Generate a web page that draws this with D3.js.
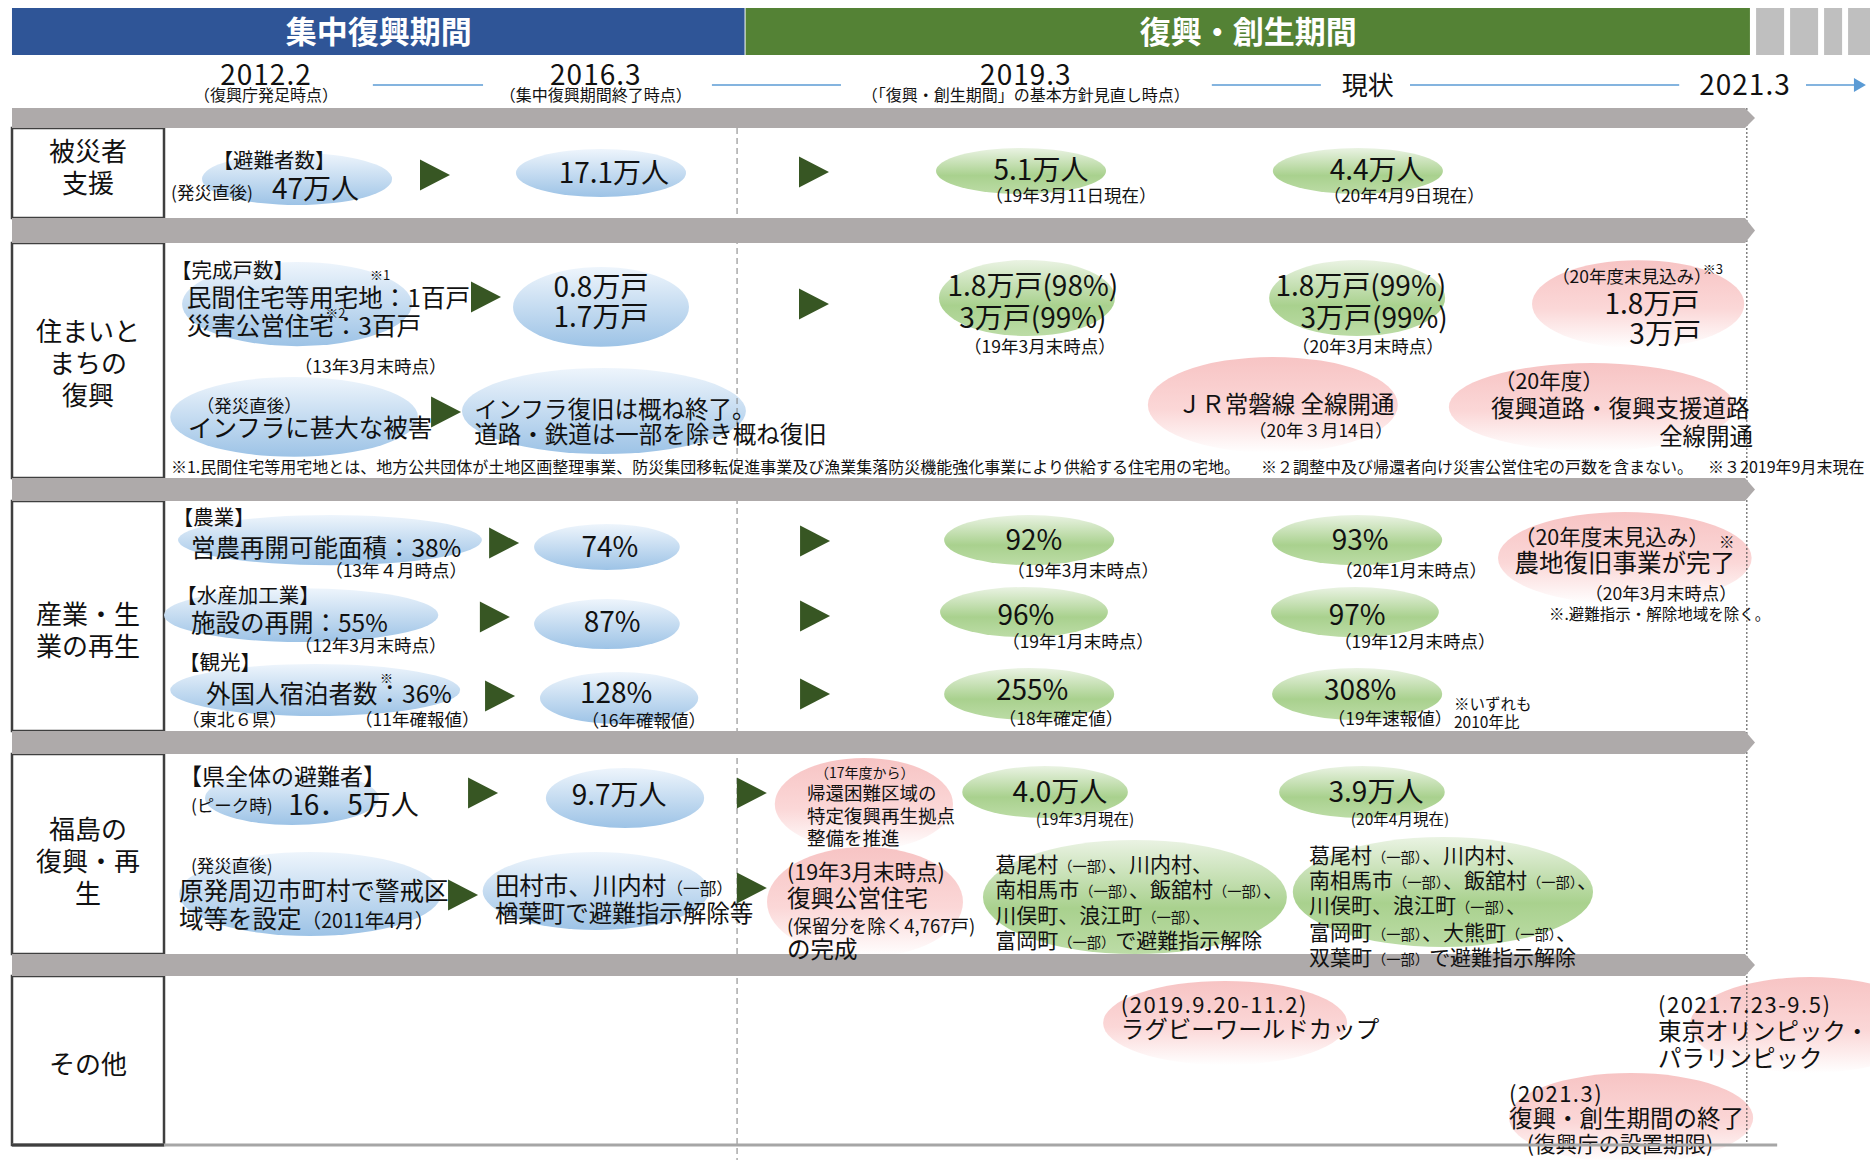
<!DOCTYPE html>
<html lang="ja">
<head>
<meta charset="utf-8">
<script src="https://cdn.jsdelivr.net/npm/d3@7"></script>
<style>
  html, body { margin: 0; background: #fff; }
  svg { display: block; font-family: "Noto Sans CJK JP", "Noto Sans", sans-serif; }
</style>
</head>
<body>
<svg id="chart" width="1870" height="1160"></svg>
<script>
// ---------- data ----------
// timeline stage units: 0 = 2012.2 ... 4 = 2021.3
const periods = [
  { name: '集中復興期間', start: -0.687, end: 1.297 },
  { name: '復興・創生期間', start: 1.297, end: 4.016 },
];

const milestones = [
  { at: 0,     label: '2012.2', note: '（復興庁発足時点）' },
  { at: 0.892, label: '2016.3', note: '（集中復興期間終了時点）' },
  { at: 2.055, label: '2019.3', note: '（「復興・創生期間」の基本方針見直し時点）' },
  { at: 2.98,  label: '現状',   note: '' },
  { at: 4,     label: '2021.3', note: '' },
];
const connectors = [[0.289, 0.587], [1.206, 1.555], [2.558, 2.853], [3.094, 3.822]];
const nextArrow = [4.165, 4.327];

const rowLabels = ['被災者\n支援', '住まいと\nまちの\n復興', '産業・生\n業の再生', '福島の\n復興・再\n生', 'その他'];

// [row, stage, v (fraction of row), rx (stage units), ry (fraction of row), phase]
const bubbles = [
  [0, 0.084, 0.567, 0.257, 0.289, 'past'], [0, 0.906, 0.50, 0.230, 0.267, 'past'],
  [0, 2.042, 0.478, 0.230, 0.256, 'done'], [0, 2.953, 0.478, 0.230, 0.256, 'done'],
  [1, 0.084, 0.260, 0.311, 0.179, 'past'], [1, 0.906, 0.272, 0.238, 0.170, 'past'],
  [1, 0.076, 0.740, 0.335, 0.170, 'past'], [1, 0.914, 0.715, 0.384, 0.183, 'past'],
  [1, 2.058, 0.234, 0.238, 0.162, 'done'], [1, 2.951, 0.234, 0.238, 0.162, 'done'],
  [1, 3.711, 0.260, 0.287, 0.187, 'plan'], [1, 2.723, 0.689, 0.338, 0.204, 'plan'],
  [1, 3.586, 0.698, 0.387, 0.187, 'plan'],
  [2, 0.173, 0.170, 0.411, 0.109, 'past'], [2, 0.922, 0.200, 0.197, 0.100, 'past'],
  [2, 0.095, 0.496, 0.371, 0.117, 'past'], [2, 0.922, 0.535, 0.197, 0.109, 'past'],
  [2, 0.133, 0.822, 0.392, 0.113, 'past'], [2, 0.955, 0.857, 0.214, 0.113, 'past'],
  [2, 2.064, 0.170, 0.230, 0.109, 'done'], [2, 2.951, 0.170, 0.230, 0.109, 'done'],
  [2, 2.050, 0.483, 0.227, 0.109, 'done'], [2, 2.945, 0.483, 0.227, 0.109, 'done'],
  [2, 2.064, 0.839, 0.230, 0.113, 'done'], [2, 2.951, 0.839, 0.230, 0.113, 'done'],
  [2, 3.675, 0.248, 0.343, 0.200, 'plan'],
  [3, 0.070, 0.220, 0.235, 0.135, 'past'], [3, 0.971, 0.220, 0.214, 0.150, 'past'],
  [3, 0.119, 0.700, 0.354, 0.210, 'past'], [3, 0.892, 0.685, 0.306, 0.195, 'past'],
  [3, 1.617, 0.250, 0.241, 0.230, 'plan'], [3, 1.620, 0.740, 0.265, 0.275, 'plan'],
  [3, 2.107, 0.190, 0.224, 0.130, 'done'], [3, 2.964, 0.190, 0.224, 0.130, 'done'],
  [3, 2.350, 0.715, 0.411, 0.285, 'done'], [3, 3.183, 0.690, 0.406, 0.275, 'done'],
  [4, 2.594, 0.278, 0.330, 0.249, 'plan'], [4, 4.176, 0.290, 0.325, 0.284, 'plan'],
  [4, 3.692, 0.840, 0.330, 0.266, 'plan'],
];

// [row, stage, v]
const arrows = [
  [0, 0.457, 0.522], [0, 1.482, 0.489],
  [1, 0.595, 0.230], [1, 1.482, 0.260], [1, 0.487, 0.719],
  [2, 0.644, 0.183], [2, 0.619, 0.504], [2, 0.633, 0.848],
  [2, 1.485, 0.174], [2, 1.485, 0.500], [2, 1.485, 0.839],
  [3, 0.587, 0.195], [3, 1.314, 0.195], [3, 0.533, 0.705], [3, 1.314, 0.670],
];

// [stage, v, role, anchor, text]
const labelsSupport = [
  [0.022, 0.444, 'head', 'm', '【避難者数】'],
  [-0.257, 0.789, 'note', 's', '(発災直後)'],
  [0.016, 0.789, 'value', 's', '47万人'],
  [0.941, 0.611, 'value', 'm', '17.1万人'],
  [2.096, 0.578, 'value', 'm', '5.1万人'],
  [2.177, 0.822, 'note', 'm', '（19年3月11日現在）'],
  [3.005, 0.578, 'value', 'm', '4.4万人'],
  [3.078, 0.822, 'note', 'm', '（20年4月9日現在）'],
];
const labelsHousing = [
  [-0.257, 0.149, 'head', 's', '【完成戸数】'],
  [0.281, 0.157, 'tiny', 's', '※1'],
  [-0.214, 0.272, 'large', 's', '民間住宅等用宅地：1百戸'],
  [0.160, 0.319, 'tiny', 's', '※2'],
  [-0.214, 0.391, 'large', 's', '災害公営住宅：3百戸'],
  [0.078, 0.553, 'note', 's', '（13年3月末時点）'],
  [0.906, 0.230, 'value', 'm', '0.8万戸'],
  [0.906, 0.357, 'value', 'm', '1.7万戸'],
  [-0.187, 0.719, 'note', 's', '（発災直後）'],
  [-0.211, 0.826, 'large', 's', 'インフラに甚大な被害'],
  [0.563, 0.745, 'text', 's', 'インフラ復旧は概ね終了。'],
  [0.563, 0.851, 'text', 's', '道路・鉄道は一部を除き概ね復旧'],
  [2.074, 0.226, 'value', 'm', '1.8万戸(98%)'],
  [2.074, 0.362, 'value', 'm', '3万戸(99%)'],
  [2.093, 0.468, 'note', 'm', '（19年3月末時点）'],
  [2.961, 0.226, 'value', 'm', '1.8万戸(99%)'],
  [2.997, 0.362, 'value', 'm', '3万戸(99%)'],
  [2.980, 0.468, 'note', 'm', '（20年3月末時点）'],
  [3.694, 0.170, 'note', 'm', '（20年度末見込み）'],
  [3.886, 0.132, 'tiny', 's', '※3'],
  [3.748, 0.302, 'value', 'm', '1.8万戸'],
  [3.784, 0.430, 'value', 'm', '3万戸'],
  [2.759, 0.723, 'text', 'm', 'ＪＲ常磐線 全線開通'],
  [2.853, 0.826, 'note', 'm', '（20年３月14日）'],
  [3.321, 0.621, 'sub', 's', '（20年度）'],
  [3.313, 0.740, 'text', 's', '復興道路・復興支援道路'],
  [4.022, 0.860, 'text', 'e', '全線開通'],
  [-0.257, 0.979, 'foot', 's', '※1.民間住宅等用宅地とは、地方公共団体が土地区画整理事業、防災集団移転促進事業及び漁業集落防災機能強化事業により供給する住宅用の宅地。'],
  [2.691, 0.979, 'foot', 's', '※２調整中及び帰還者向け災害公営住宅の戸数を含まない。'],
  [3.900, 0.979, 'foot', 's', '※３2019年9月末現在'],
];
const labelsIndustry = [
  [-0.252, 0.104, 'head', 's', '【農業】'],
  [-0.203, 0.243, 'large', 's', '営農再開可能面積：38%'],
  [0.160, 0.330, 'note', 's', '（13年４月時点）'],
  [-0.243, 0.443, 'head', 's', '【水産加工業】'],
  [-0.203, 0.570, 'large', 's', '施設の再開：55%'],
  [0.078, 0.657, 'note', 's', '（12年3月末時点）'],
  [0.930, 0.243, 'value', 'm', '74%'],
  [0.936, 0.570, 'value', 'm', '87%'],
  [-0.235, 0.735, 'head', 's', '【観光】'],
  [-0.162, 0.878, 'large', 's', '外国人宿泊者数：36%'],
  [0.308, 0.791, 'tiny', 's', '※'],
  [-0.227, 0.978, 'note', 's', '（東北６県）'],
  [0.241, 0.978, 'note', 's', '（11年確報値）'],
  [0.947, 0.878, 'value', 'm', '128%'],
  [1.022, 0.983, 'note', 'm', '（16年確報値）'],
  [2.077, 0.213, 'value', 'm', '92%'],
  [2.210, 0.330, 'note', 'm', '（19年3月末時点）'],
  [2.959, 0.213, 'value', 'm', '93%'],
  [3.097, 0.330, 'note', 'm', '（20年1月末時点）'],
  [3.640, 0.191, 'sub', 'm', '（20年度末見込み）'],
  [3.930, 0.204, 'small', 's', '※'],
  [3.675, 0.309, 'large', 'm', '農地復旧事業が完了'],
  [3.978, 0.430, 'note', 'e', '（20年3月末時点）'],
  [3.470, 0.517, 'small', 's', '※.避難指示・解除地域を除く。'],
  [2.055, 0.539, 'value', 'm', '96%'],
  [2.196, 0.639, 'note', 'm', '（19年1月末時点）'],
  [2.951, 0.539, 'value', 'm', '97%'],
  [3.107, 0.639, 'note', 'm', '（19年12月末時点）'],
  [2.072, 0.865, 'value', 'm', '255%'],
  [2.150, 0.974, 'note', 'm', '（18年確定値）'],
  [2.959, 0.865, 'value', 'm', '308%'],
  [3.040, 0.974, 'note', 'm', '（19年速報値）'],
  [3.213, 0.909, 'small', 's', '※いずれも'],
  [3.213, 0.987, 'small', 's', '2010年比'],
];
const labelsFukushima = [
  [-0.235, 0.155, 'head2', 's', '【県全体の避難者】'],
  [-0.203, 0.290, 'note', 's', '(ピーク時)'],
  [0.060, 0.305, 'value', 's', '16．5万人'],
  [0.955, 0.255, 'value', 'm', '9.7万人'],
  [-0.203, 0.590, 'note', 's', '(発災直後)'],
  [-0.235, 0.730, 'large', 's', '原発周辺市町村で警戒区'],
  [-0.235, 0.870, 'large', 's', '域等を設定（2011年4月）'],
  [0.619, 0.705, 'large', 's', '田村市、川内村（一部）'],
  [0.619, 0.840, 'text', 's', '楢葉町で避難指示解除等'],
  [1.485, 0.120, 'xs', 's', '（17年度から）'],
  [1.463, 0.230, 'mini', 's', '帰還困難区域の'],
  [1.463, 0.345, 'mini', 's', '特定復興再生拠点'],
  [1.463, 0.455, 'mini', 's', '整備を推進'],
  [1.409, 0.630, 'sub', 's', '(19年3月末時点)'],
  [1.409, 0.765, 'text', 's', '復興公営住宅'],
  [1.409, 0.895, 'mini', 's', '(保留分を除く4,767戸)'],
  [1.409, 1.020, 'text', 's', 'の完成'],
  [2.147, 0.240, 'value', 'm', '4.0万人'],
  [2.215, 0.355, 'small', 'm', '(19年3月現在)'],
  [3.002, 0.240, 'value', 'm', '3.9万人'],
  [3.067, 0.355, 'small', 'm', '(20年4月現在)'],
  [1.972, 0.590, 'body', 's', '葛尾村（一部）、川内村、'],
  [1.972, 0.715, 'body', 's', '南相馬市（一部）、飯舘村（一部）、'],
  [1.972, 0.845, 'body', 's', '川俣町、浪江町（一部）、'],
  [1.972, 0.970, 'body', 's', '富岡町（一部）で避難指示解除'],
  [2.821, 0.545, 'body', 's', '葛尾村（一部）、川内村、'],
  [2.821, 0.670, 'body', 's', '南相馬市（一部）、飯舘村（一部）、'],
  [2.821, 0.795, 'body', 's', '川俣町、浪江町（一部）、'],
  [2.821, 0.930, 'body', 's', '富岡町（一部）、大熊町（一部）、'],
  [2.821, 1.055, 'body', 's', '双葉町（一部）で避難指示解除'],
];
const labelsOther = [
  [2.312, 0.219, 'date', 's', '(2019.9.20-11.2)'],
  [2.312, 0.367, 'text', 's', 'ラグビーワールドカップ'],
  [3.765, 0.219, 'date', 's', '(2021.7.23-9.5)'],
  [3.765, 0.379, 'text', 's', '東京オリンピック・'],
  [3.765, 0.538, 'text', 's', 'パラリンピック'],
  [3.362, 0.746, 'date', 's', '(2021.3)'],
  [3.362, 0.893, 'text', 's', '復興・創生期間の終了'],
  [3.410, 1.041, 'sub', 's', '(復興庁の設置期限)'],
];

// ---------- layout ----------
const W = 1870, H = 1160;
const chartLeft = 12, labelRight = 164;
const rowTops = [128, 243, 501, 754, 976];
const rowBottoms = [218, 478, 731, 954, 1145];
const rowLabelCenter = [0.444, 0.515, 0.567, 0.54, 0.527];
const firstBandTop = 108;
const headerTop = 8, headerH = 47;
const dateY = 85, noteY = 101;
const futureWidths = [28, 28, 18, 28];

const fontSize = { value: 28, large: 24.5, text: 23.5, row: 26, head2: 23, sub: 21.5, date: 22,
  head: 20.5, body: 21, mini: 18.5, note: 17.5, foot: 16, small: 15.5, xs: 14, tiny: 13 };
const anchors = { s: 'start', m: 'middle', e: 'end' };
const MINOR = /(（一部）|（2011年4月）)/;
const minorScale = { '（一部）': 0.68, '（2011年4月）': 0.8 };

const x = d3.scaleLinear().domain([0, 4]).range([266, 1745]);
const yRow = rowTops.map((t, i) => d3.scaleLinear().domain([0, 1]).range([t, rowBottoms[i]]));
const rowH = i => rowBottoms[i] - rowTops[i];

const svg = d3.select('#chart');
svg.append('rect').attr('width', W).attr('height', H).attr('fill', '#fff');

// gradients for the bubbles
const tones = {
  past: [['0%', '#EEF5FC'], ['100%', '#9DC3E6']],
  done: [['0%', '#EAF3E3'], ['60%', '#A9D18E'], ['100%', '#BCDCA6']],
  plan: [['0%', '#F7C4C4'], ['55%', '#FBD7D7'], ['100%', '#FFFFFF']],
};
const defs = svg.append('defs');
Object.entries(tones).forEach(([k, stops]) => {
  defs.append('linearGradient').attr('id', 'g-' + k)
    .attr('x1', 0).attr('y1', 0).attr('x2', 0).attr('y2', 1)
    .selectAll('stop').data(stops).join('stop')
    .attr('offset', d => d[0]).attr('stop-color', d => d[1]);
});

// ---------- header ----------
const periodColors = ['#2F5597', '#548235'];
const head = svg.append('g');
head.selectAll('rect.period').data(periods).join('rect')
  .attr('class', 'period')
  .attr('x', d => x(d.start)).attr('y', headerTop)
  .attr('width', d => x(d.end) - x(d.start) - 1).attr('height', headerH)
  .attr('fill', (d, i) => periodColors[i]);
head.selectAll('text').data(periods).join('text')
  .attr('x', d => (x(d.start) + x(d.end)) / 2).attr('y', headerTop + headerH / 2 + 11)
  .attr('text-anchor', 'middle').attr('font-size', 31).attr('font-weight', 700)
  .attr('fill', '#fff').text(d => d.name);
// later periods, not yet named
const futureX = futureWidths.map((w, i) => x(4.03) + d3.sum(futureWidths.slice(0, i)) + i * 6);
head.selectAll('rect.future').data(futureWidths).join('rect')
  .attr('class', 'future')
  .attr('x', (w, i) => futureX[i]).attr('y', headerTop)
  .attr('width', w => w).attr('height', headerH).attr('fill', '#BFBFBF');

// milestones and connectors
const ms = svg.append('g');
ms.selectAll('text.date').data(milestones).join('text')
  .attr('class', 'date')
  .attr('x', d => x(d.at)).attr('y', d => d.note ? dateY : dateY + 10)
  .attr('text-anchor', 'middle')
  .attr('font-size', d => /\d/.test(d.label) ? 28 : 26)
  .attr('letter-spacing', d => /\d/.test(d.label) ? 1 : 0)
  .attr('fill', '#111').text(d => d.label);
ms.selectAll('text.note').data(milestones.filter(d => d.note)).join('text')
  .attr('class', 'note')
  .attr('x', d => x(d.at)).attr('y', noteY)
  .attr('text-anchor', 'middle').attr('font-size', 16)
  .attr('fill', '#111').text(d => d.note);
ms.selectAll('line').data(connectors.concat([[nextArrow[0], nextArrow[1] - 0.03]])).join('line')
  .attr('x1', d => x(d[0])).attr('x2', d => x(d[1]))
  .attr('y1', dateY).attr('y2', dateY)
  .attr('stroke', '#5B9BD5').attr('stroke-width', 1.5);
ms.append('path')
  .attr('d', `M${x(nextArrow[1]) - 12},${dateY - 7}L${x(nextArrow[1])},${dateY}L${x(nextArrow[1]) - 12},${dateY + 7}Z`)
  .attr('fill', '#5B9BD5');

// ---------- rows ----------
const bandRanges = rowTops.map((t, i) => [i === 0 ? firstBandTop : rowBottoms[i - 1], t]);

// left label boxes
const boxes = svg.append('g');
boxes.selectAll('rect').data(rowLabels).join('rect')
  .attr('x', chartLeft).attr('y', (d, i) => rowTops[i])
  .attr('width', labelRight - chartLeft).attr('height', (d, i) => rowH(i))
  .attr('fill', '#fff').attr('stroke', '#3F3F3F').attr('stroke-width', 2.5);
boxes.selectAll('text').data(rowLabels).join('text')
  .attr('text-anchor', 'middle').attr('font-size', fontSize.row).attr('fill', '#111')
  .each(function (d, i) {
    const lines = d.split('\n');
    const cy = yRow[i](rowLabelCenter[i]);
    d3.select(this).selectAll('tspan').data(lines).join('tspan')
      .attr('x', (chartLeft + labelRight) / 2)
      .attr('y', (l, j) => cy + (j - (lines.length - 1) / 2) * 32 + 9)
      .text(l => l);
  });

// bubbles
svg.append('g').selectAll('ellipse').data(bubbles).join('ellipse')
  .attr('cx', d => x(d[1])).attr('cy', d => yRow[d[0]](d[2]))
  .attr('rx', d => x(d[1] + d[3]) - x(d[1]))
  .attr('ry', d => d[4] * rowH(d[0]))
  .attr('fill', d => `url(#g-${d[5]})`);

// period boundary and end-of-period guides
svg.append('line')
  .attr('x1', x(1.274)).attr('x2', x(1.274)).attr('y1', rowTops[0]).attr('y2', H)
  .attr('stroke', '#7F7F7F').attr('stroke-width', 1).attr('stroke-dasharray', '6,4');
svg.append('line')
  .attr('x1', x(4.005)).attr('x2', x(4.005)).attr('y1', firstBandTop).attr('y2', rowBottoms[4])
  .attr('stroke', '#404040').attr('stroke-width', 1).attr('stroke-dasharray', '2,2');

// grey bands with pointed end
svg.append('g').selectAll('polygon').data(bandRanges).join('polygon')
  .attr('points', ([t, b]) => [
    [chartLeft, t], [x(4), t], [x(4) + 10, (t + b) / 2], [x(4), b], [chartLeft, b],
  ].join(' '))
  .attr('fill', '#AEAAAA');

// arrows
svg.append('g').selectAll('path').data(arrows).join('path')
  .attr('d', d => {
    const cx = x(d[1]), cy = yRow[d[0]](d[2]);
    return `M${cx - 15},${cy - 15.5}L${cx + 15},${cy}L${cx - 15},${cy + 15.5}Z`;
  })
  .attr('fill', '#375623');

// labels
const allLabels = [labelsSupport, labelsHousing, labelsIndustry, labelsFukushima, labelsOther]
  .flatMap((arr, row) => arr.map(([at, v, role, anchor, text]) => ({ row, at, v, role, anchor, text })));
svg.append('g').selectAll('text').data(allLabels).join('text')
  .attr('x', d => x(d.at)).attr('y', d => yRow[d.row](d.v))
  .attr('text-anchor', d => anchors[d.anchor])
  .attr('font-size', d => fontSize[d.role])
  .attr('letter-spacing', d => d.role === 'date' ? 1.5 : 0)
  .attr('fill', '#111')
  .each(function (d) {
    const size = fontSize[d.role];
    d3.select(this).selectAll('tspan').data(d.text.split(MINOR).filter(s => s)).join('tspan')
      .attr('font-size', p => size * (minorScale[p] || 1))
      .text(p => p);
  });

// bottom rule
svg.append('line')
  .attr('x1', chartLeft).attr('x2', x(4.087)).attr('y1', rowBottoms[4]).attr('y2', rowBottoms[4])
  .attr('stroke', '#A6A6A6').attr('stroke-width', 3);
svg.append('line')
  .attr('x1', chartLeft).attr('x2', labelRight).attr('y1', rowBottoms[4]).attr('y2', rowBottoms[4])
  .attr('stroke', '#3F3F3F').attr('stroke-width', 3);
</script>
</body>
</html>
